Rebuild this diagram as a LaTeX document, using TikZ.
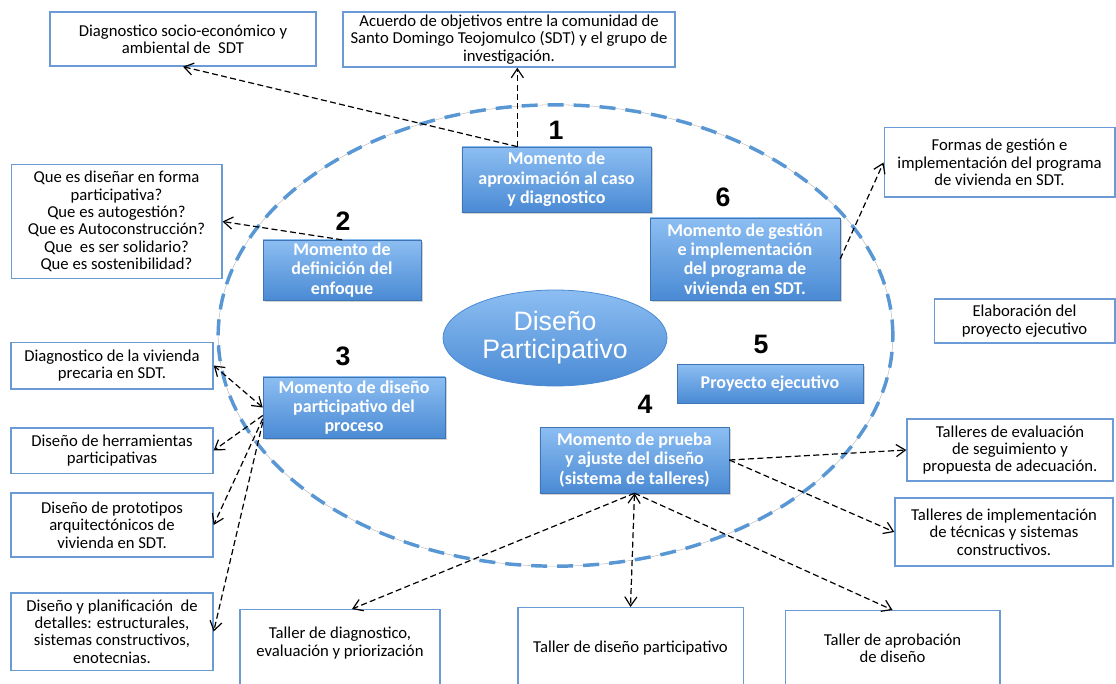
\documentclass[tikz,border=0pt]{standalone}
\usepackage{fontspec}
\setmainfont{Carlito}
\newfontfamily\arialfont{Liberation Sans}
\usetikzlibrary{shapes.geometric,shadows,arrows.meta,calc}
\definecolor{edgeblue}{RGB}{106,155,214}
\definecolor{mtop}{RGB}{140,190,242}
\definecolor{mbot}{RGB}{74,138,212}
\definecolor{ringblue}{RGB}{88,150,212}
\tikzset{
    wbox/.style={rectangle,draw=edgeblue,line width=1pt,fill=white,align=center,inner sep=1pt,
        font=\fontsize{12.5}{13}\selectfont,drop shadow={opacity=0.25,shadow xshift=0.8pt,shadow yshift=-0.8pt}},
    lbl/.style={font=\fontsize{12.5}{13}\selectfont,align=center,anchor=center},
    mbox/.style={rectangle,draw=mbot!85!black,line width=0.3pt,top color=mtop,bottom color=mbot,text=white,
        align=center,inner sep=1pt,font=\bfseries\fontsize{13.5}{14.5}\selectfont,
        drop shadow={opacity=0.35,shadow xshift=1.2pt,shadow yshift=-1.2pt}},
    dpell/.style={ellipse,draw=mbot,line width=0.6pt,top color=mtop,bottom color=mbot,text=white,align=center,
        font=\arialfont\fontsize{20}{21}\selectfont,minimum width=168pt,minimum height=72pt,inner sep=0pt},
    num/.style={font=\arialfont\bfseries\fontsize{20}{20}\selectfont},
    arr/.style={draw=black,line width=0.9pt,dash pattern=on 4.5pt off 2.5pt,-{Straight Barb[length=2.4mm,width=3.2mm]}},
    arrs/.style={arr,{Straight Barb[length=2.4mm,width=3.2mm]}-{Straight Barb[length=2.4mm,width=3.2mm]}}
}

\begin{document}
\begin{tikzpicture}[x=0.75pt,y=-0.75pt]
    \useasboundingbox (0,0) rectangle (1116,684);
    \clip (0,0) rectangle (1116,684);
    \draw[gray!50,line width=0.4pt] (555.5,335.5) ellipse [x radius=253pt,y radius=173pt];
    \draw[ringblue,line width=2.6pt,dash pattern=on 12pt off 7.5pt] (555.5,335.5) ellipse [x radius=253pt,y radius=173pt];

    \node[dpell] (dp) at (555,338) {Diseño\\Participativo};

    \node[mbox,minimum width=142pt,minimum height=49pt] (m1) at (556.5,179.5) {Momento de\\aproximación al caso\\y diagnostico};
    \node[mbox,minimum width=118.5pt,minimum height=45pt] (m2) at (342,270) {Momento de\\definición del\\enfoque};
    \node[mbox,minimum width=136.5pt,minimum height=46pt] (m3) at (354,407.5) {Momento de diseño\\participativo del\\proceso};
    \node[mbox,minimum width=142pt,minimum height=49.5pt] (m4) at (634.5,460) {Momento de prueba\\y ajuste del diseño\\(sistema de talleres)};
    \node[mbox,minimum width=139.5pt,minimum height=29pt] (m5) at (770,383.5) {Proyecto ejecutivo};
    \node[mbox,minimum width=142.5pt,minimum height=61.5pt] (m6) at (745,259) {Momento de gestión\\e implementación\\del programa de\\vivienda en SDT.};

    \node[num] (n1) at (556,130) {1};
    \node[num] (n2) at (343,221) {2};
    \node[num] (n3) at (343,356) {3};
    \node[num] (n4) at (645,404) {4};
    \node[num] (n5) at (761,344) {5};
    \node[num] (n6) at (723,197) {6};

    \node[wbox,minimum width=199.5pt,minimum height=40.5pt] (b1) at (183,39) {Diagnostico socio-económico y\\ambiental de \ SDT};
    \node[wbox,minimum width=249pt,minimum height=41.25pt] (b2) at (509,39.5) {Acuerdo de objetivos entre la comunidad de\\Santo Domingo Teojomulco (SDT) y el grupo de\\investigación.};
    \node[wbox,minimum width=158pt,minimum height=85pt] (b3) at (116.5,221.5) {Que es diseñar en forma\\participativa?\\Que es autogestión?\\Que es Autoconstrucción?\\Que \ es ser solidario?\\Que es sostenibilidad?};
    \node[wbox,minimum width=173pt,minimum height=52pt] (b4) at (999.5,162.5) {Formas de gestión e\\implementación del programa\\de vivienda en SDT.};
    \node[wbox,minimum width=135.5pt,minimum height=33pt] (b5) at (1024.5,321) {Elaboración del\\proyecto ejecutivo};
    \node[wbox,minimum width=151.5pt,minimum height=35pt] (b6) at (112,365.5) {Diagnostico de la vivienda\\precaria en SDT.};
    \node[wbox,minimum width=151.5pt,minimum height=34pt] (b7) at (112,450.5) {Diseño de herramientas\\participativas};
    \node[wbox,minimum width=151.5pt,minimum height=48pt] (b8) at (112,525) {Diseño de prototipos\\arquitectónicos de\\vivienda en SDT.};
    \node[wbox,minimum width=151.5pt,minimum height=58pt] (b9) at (112,631.5) {Diseño y planificación \ de\\detalles: estructurales,\\sistemas constructivos,\\enotecnias.};
    \node[wbox,minimum width=154.5pt,minimum height=46.5pt] (b10) at (1010,450) {Talleres de evaluación\\de seguimiento y\\propuesta de adecuación.};
    \node[wbox,minimum width=163.5pt,minimum height=51pt] (b11) at (1004,532) {Talleres de implementación\\de técnicas y sistemas\\constructivos.};
    \node[wbox,anchor=north,minimum width=150pt,minimum height=80pt,
        label={[lbl,name=b12t,yshift=-25.5pt]north:{Taller de diagnostico,\\evaluación y priorización}}] (b12) at (340,609) {};
    \node[wbox,anchor=north,minimum width=169pt,minimum height=80pt,
        label={[lbl,name=b13t,yshift=-30.75pt]north:{Taller de diseño participativo}}] (b13) at (630.5,607) {};
    \node[wbox,anchor=north,minimum width=161pt,minimum height=80pt,
        label={[lbl,name=b14t,yshift=-28.5pt]north:{Taller de aprobación\\de diseño}}] (b14) at (892.5,610) {};

    \coordinate (m1a) at (m1.140);
    \draw[arr] (m1a) -- (b1.south);
    \draw[arr] (m1a) -- (m1a |- b2.south);
    \draw[arr] (m2.north) -- (b3.east);
    \draw[arr] (m6.east) -- (b4.west);
    \draw[arrs] (m3.west) -- (b6.east);
    \draw[arr] (m3.185) -- (b7.east);
    \draw[arr] (m3.187) -- (b8.east);
    \draw[arr] (m3.189) -- (b9.east);
    \draw[arr] (m4.east) -- (b10.west);
    \draw[arr] (m4.east) -- (b11.west);
    \draw[arr] (m4.south) -- ($(b12.north)+(12,0)$);
    \draw[arrs] (m4.south) -- (b13.north);
    \draw[arr] (m4.south) -- (b14.north);
\end{tikzpicture}
\end{document}
